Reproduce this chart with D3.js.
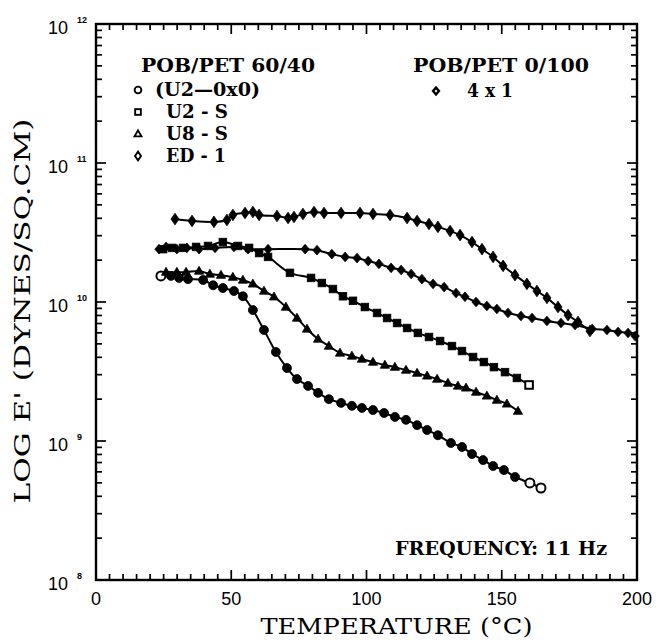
<!DOCTYPE html>
<html>
<head>
<meta charset="utf-8">
<script src="https://cdn.jsdelivr.net/npm/d3@7"></script>
<style>
    body { margin: 0; background: #fff; }
</style>
</head>
<body>
<div id="chart"></div>
<script>
// temperatures (deg C) and moduli (units of 1e10 dynes/sq.cm)
var u2oxT = [24.0, 27.7, 30.7, 34.0, 39.6, 43.3, 46.9, 51.0, 54.3, 58.0, 62.1, 66.5, 70.6, 74.3, 78.4, 82.1, 86.1, 90.6, 94.6, 98.3, 102.4, 106.5, 110.5, 114.6, 118.7, 122.4, 126.4, 131.2, 135.3, 139.0, 143.1, 146.8, 150.8, 154.9, 160.4, 164.5];
var u2oxE = [1.54, 1.54, 1.49, 1.46, 1.44, 1.32, 1.26, 1.20, 1.10, 0.875, 0.629, 0.437, 0.335, 0.279, 0.249, 0.222, 0.200, 0.188, 0.179, 0.173, 0.167, 0.159, 0.149, 0.142, 0.130, 0.120, 0.110, 0.0968, 0.0906, 0.0806, 0.0729, 0.0661, 0.0618, 0.0551, 0.0499, 0.0459];

var u2sT = [24.8, 28.1, 32.2, 37.0, 41.4, 46.9, 52.5, 56.6, 60.3, 63.6, 71.7, 79.5, 83.5, 87.6, 91.3, 95.0, 99.4, 103.9, 107.6, 111.3, 115.0, 119.0, 123.1, 127.2, 131.6, 135.3, 139.4, 143.4, 147.1, 151.2, 155.6, 160.1];
var u2sE = [2.40, 2.45, 2.45, 2.49, 2.53, 2.70, 2.53, 2.45, 2.25, 2.11, 1.62, 1.49, 1.37, 1.24, 1.10, 1.02, 0.920, 0.834, 0.767, 0.706, 0.650, 0.599, 0.560, 0.524, 0.482, 0.444, 0.402, 0.370, 0.340, 0.313, 0.284, 0.253];

var u8sT = [25.9, 29.9, 33.3, 38.1, 42.1, 46.2, 50.6, 54.3, 58.0, 62.1, 65.8, 70.2, 74.3, 78.0, 82.1, 86.1, 90.2, 94.6, 98.3, 102.4, 106.8, 110.5, 114.6, 118.7, 122.4, 126.1, 130.1, 133.8, 136.8, 140.5, 144.5, 148.2, 151.9, 156.0];
var u8sE = [1.64, 1.64, 1.64, 1.67, 1.59, 1.56, 1.51, 1.44, 1.35, 1.20, 1.09, 0.920, 0.767, 0.640, 0.542, 0.482, 0.430, 0.409, 0.389, 0.370, 0.352, 0.340, 0.324, 0.308, 0.294, 0.279, 0.261, 0.249, 0.241, 0.225, 0.211, 0.197, 0.185, 0.164];

var ed1T = [29.2, 35.5, 43.6, 48.4, 50.6, 55.1, 58.0, 60.3, 66.9, 71.0, 73.2, 76.5, 80.6, 84.3, 90.6, 97.6, 102.4, 108.7, 115.0, 118.7, 123.1, 126.4, 130.9, 134.6, 139.0, 142.7, 146.8, 150.5, 154.9, 159.3, 163.0, 166.7, 170.8, 174.5, 178.2, 182.6];
var ed1E = [3.95, 3.83, 3.77, 3.89, 4.23, 4.37, 4.44, 4.23, 4.16, 4.02, 4.09, 4.30, 4.44, 4.37, 4.37, 4.37, 4.30, 4.23, 4.02, 3.83, 3.64, 3.47, 3.24, 3.03, 2.70, 2.40, 2.11, 1.82, 1.56, 1.35, 1.20, 1.07, 0.920, 0.805, 0.718, 0.618];

var p41T = [23.3, 25.9, 29.9, 33.6, 38.1, 44.0, 51.0, 56.2, 63.6, 77.3, 81.7, 87.2, 92.1, 96.5, 100.6, 104.6, 109.1, 112.8, 116.5, 120.5, 124.6, 128.7, 133.1, 136.4, 140.5, 144.5, 148.2, 152.3, 157.1, 161.2, 166.7, 171.9, 177.1, 183.4, 188.9, 193.0, 196.7, 199.3];
var p41E = [2.40, 2.49, 2.40, 2.45, 2.40, 2.45, 2.49, 2.40, 2.40, 2.40, 2.36, 2.21, 2.11, 2.07, 1.97, 1.88, 1.76, 1.70, 1.59, 1.46, 1.35, 1.28, 1.16, 1.09, 1.00, 0.936, 0.891, 0.834, 0.793, 0.767, 0.730, 0.706, 0.683, 0.640, 0.629, 0.609, 0.599, 0.569];

var xTicks = [0, 50, 100, 150, 200];
var yExps = [8, 9, 10, 11, 12];

var series = [
    { name: "(U2\u20140x0)", t: u2oxT, e: u2oxE, sym: "circle" },
    { name: "U2 - S", t: u2sT, e: u2sE, sym: "square" },
    { name: "U8 - S", t: u8sT, e: u8sE, sym: "triangle" },
    { name: "ED - 1", t: ed1T, e: ed1E, sym: "diamond" },
    { name: "4 x 1", t: p41T, e: p41E, sym: "smalldiamond" }
];

var W = 659, H = 640;
var margin = { top: 24, left: 96, right: 22, bottom: 60 };

var svg = d3.select("#chart").append("svg")
    .attr("width", W)
    .attr("height", H);

var x = d3.scaleLinear().domain([0, 200]).range([margin.left, W - margin.right]);
var y = d3.scaleLog().domain([1e8, 1e12]).range([H - margin.bottom, margin.top]);

var x0 = x.range()[0], x1 = x.range()[1], y0 = y.range()[0], y1 = y.range()[1];

// ticks, all pointing inward
var tk = svg.append("g").attr("stroke", "#000").attr("stroke-width", 1.7);
d3.range(0, 201, 5).forEach(function(v) {
    var len = (v % 50 === 0) ? 10 : 6;
    tk.append("line").attr("x1", x(v)).attr("x2", x(v)).attr("y1", y0).attr("y2", y0 - len);
    tk.append("line").attr("x1", x(v)).attr("x2", x(v)).attr("y1", y1).attr("y2", y1 + len);
});
for (var k = 8; k < 12; k++) {
    for (var m = 1; m < 10; m++) {
        var v = m * Math.pow(10, k);
        var len = m === 1 ? 10 : 6;
        tk.append("line").attr("x1", x0).attr("x2", x0 + len).attr("y1", y(v)).attr("y2", y(v));
        tk.append("line").attr("x1", x1).attr("x2", x1 - len).attr("y1", y(v)).attr("y2", y(v));
    }
}

svg.append("rect")
    .attr("x", x0).attr("y", y1)
    .attr("width", x1 - x0).attr("height", y0 - y1)
    .attr("fill", "none")
    .attr("stroke", "#000")
    .attr("stroke-width", 2.4);

// tick labels
svg.selectAll(".xl").data(xTicks).enter().append("text")
    .attr("x", function(d) { return x(d); })
    .attr("y", y0 + 25)
    .attr("text-anchor", "middle")
    .style("font-family", "'Liberation Sans', Arial, sans-serif")
    .style("font-size", "18px")
    .text(function(d) { return d; });

var yl = svg.selectAll(".yl").data(yExps).enter().append("g");
yl.append("text")
    .attr("x", 68)
    .attr("y", function(d) { return y(Math.pow(10, d)) + 10; })
    .attr("text-anchor", "end")
    .style("font-family", "'Liberation Sans', Arial, sans-serif")
    .style("font-size", "18px")
    .text("10");
yl.append("text")
    .attr("x", 77)
    .attr("y", function(d) { return y(Math.pow(10, d)) - 1; })
    .style("font-family", "'Liberation Sans', Arial, sans-serif")
    .style("font-size", "9px")
    .style("font-weight", "bold")
    .text(function(d) { return d; });

// axis titles
svg.append("text")
    .attr("x", (x0 + x1) / 2 + 30)
    .attr("y", 634)
    .attr("text-anchor", "middle")
    .attr("textLength", 272)
    .attr("lengthAdjust", "spacingAndGlyphs")
    .style("font-family", "'DejaVu Serif', serif")
    .style("font-size", "23px")
    .text("TEMPERATURE  (\u00b0C)");

svg.append("text")
    .attr("transform", "translate(30," + 311 + ") rotate(-90)")
    .attr("text-anchor", "middle")
    .attr("textLength", 385)
    .attr("lengthAdjust", "spacingAndGlyphs")
    .style("font-family", "'DejaVu Serif', serif")
    .style("font-size", "22px")
    .text("LOG  E'  (DYNES/SQ.CM)");

// markers
function marker(sel, sym, s) {
    if (sym === "circle") {
        sel.append("circle").attr("r", 4.5 * s);
    } else if (sym === "square") {
        sel.append("rect").attr("x", -3.8 * s).attr("y", -3.8 * s).attr("width", 7.6 * s).attr("height", 7.6 * s);
    } else if (sym === "triangle") {
        sel.append("path").attr("d", "M0," + (-4.8 * s) + "L" + (4.6 * s) + "," + (3.2 * s) + "L" + (-4.6 * s) + "," + (3.2 * s) + "Z");
    } else if (sym === "diamond") {
        sel.append("path").attr("d", "M0," + (-5.8 * s) + "L" + (4 * s) + ",0L0," + (5.8 * s) + "L" + (-4 * s) + ",0Z");
    } else {
        sel.append("path").attr("d", "M0," + (-4.8 * s) + "L" + (4.2 * s) + ",0L0," + (4.8 * s) + "L" + (-4.2 * s) + ",0Z");
    }
}

var line = d3.line()
    .x(function(d) { return x(d[0]); })
    .y(function(d) { return y(d[1]); })
    .curve(d3.curveCatmullRom);

series.forEach(function(s) {
    var pts = s.t.map(function(t, i) { return [t, s.e[i] * 1e10]; });
    svg.append("path")
        .datum(pts)
        .attr("d", line)
        .attr("fill", "none")
        .attr("stroke", "#000")
        .attr("stroke-width", 2);
    var g = svg.append("g");
    pts.forEach(function(p, i) {
        var open = (s.sym === "circle" && (i === 0 || i >= pts.length - 2)) ||
                   (s.sym === "square" && i === pts.length - 1);
        var mk = g.append("g")
            .attr("transform", "translate(" + x(p[0]) + "," + y(p[1]) + ")")
            .attr("fill", open ? "#fff" : "#000")
            .attr("stroke", "#000")
            .attr("stroke-width", open ? 2 : 0.8);
        marker(mk, s.sym, 1);
    });
});

// legends
var fnt = "'DejaVu Serif', serif";
function label(tx, ty, txt, len, size) {
    svg.append("text")
        .attr("x", tx).attr("y", ty)
        .attr("textLength", len)
        .attr("lengthAdjust", "spacingAndGlyphs")
        .style("font-family", fnt)
        .style("font-weight", "bold")
        .style("font-size", size + "px")
        .text(txt);
}

label(141, 72, "POB/PET 60/40", 174, 19);
var legRows = [
    { sym: "circle", y: 90, tx: 155, txt: series[0].name, len: 105 },
    { sym: "square", y: 112, tx: 166, txt: series[1].name, len: 62 },
    { sym: "triangle", y: 134, tx: 166, txt: series[2].name, len: 62 },
    { sym: "diamond", y: 156, tx: 166, txt: series[3].name, len: 60 }
];
legRows.forEach(function(r) {
    var mk = svg.append("g")
        .attr("transform", "translate(138," + r.y + ")")
        .attr("fill", "#fff")
        .attr("stroke", "#000")
        .attr("stroke-width", 1.9);
    marker(mk, r.sym, 0.75);
    label(r.tx, r.y + 6, r.txt, r.len, 19);
});

label(413, 72, "POB/PET 0/100", 176, 19);
var mk41 = svg.append("g")
    .attr("transform", "translate(436,91)")
    .attr("fill", "#fff")
    .attr("stroke", "#000")
    .attr("stroke-width", 2.4);
marker(mk41, "smalldiamond", 0.7);
label(467, 97, series[4].name, 46, 19);

label(395, 555, "FREQUENCY:  11  Hz", 212, 18);
</script>
</body>
</html>
